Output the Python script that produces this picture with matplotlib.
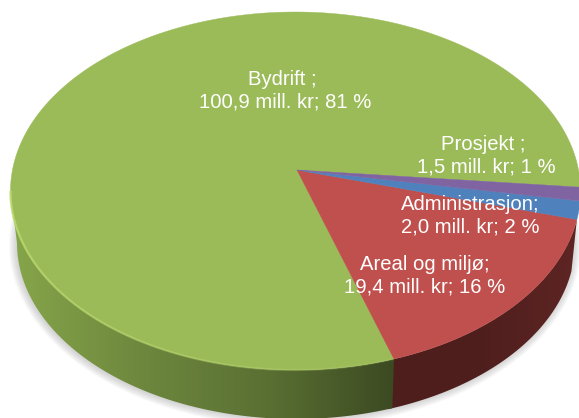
#!/usr/bin/env python3
import numpy as np
import matplotlib
matplotlib.use('Agg')
import matplotlib.pyplot as plt
from matplotlib.patches import Ellipse, Polygon
from matplotlib.collections import LineCollection
from matplotlib.colors import LinearSegmentedColormap

# Data ---------------------------------------------
categories = ['Bydrift ; ', 'Areal og miljø;', 'Administrasjon;', 'Prosjekt ; ']
values = [100.9, 19.4, 2.0, 1.5]
value_text = ['100,9', '19,4', '2,0', '1,5']
percents = [81, 16, 2, 1]

# Styles / layout ----------------------------------
colors = ['#9BBB59', '#C0504D', '#4F81BD', '#8064A2']
label_xy = [(285, 91), (425, 276), (470, 216), (486, 156)]

cx, cy, rx, ry = 295.5, 191.0, 285.0, 179.0   # top ellipse
bx, by, brx, bry = 296.0, 243.0, 279.0, 176.0  # bottom ellipse
ax0, ay0 = 297.0, 170.0                        # apex of the slices
squash = 0.63
start = 5.5     # degrees, clockwise on screen, where Prosjekt begins


def rim(theta):
    # ray from the apex out to the top ellipse, theta in degrees clockwise on screen
    theta = np.radians(np.asarray(theta, dtype=float))
    dx = np.cos(theta)
    dy = squash * np.sin(theta)
    ox = ax0 - cx
    oy = ay0 - cy
    a = (dx / rx) ** 2 + (dy / ry) ** 2
    b = 2 * (ox * dx / rx ** 2 + oy * dy / ry ** 2)
    c = (ox / rx) ** 2 + (oy / ry) ** 2 - 1
    s = (-b + np.sqrt(b * b - 4 * a * c)) / (2 * a)
    return ax0 + s * dx, ay0 + s * dy


def side_poly(t1, t2):
    t = np.radians(np.linspace(t1, t2, 200))
    top = np.column_stack([cx + rx * np.cos(t), cy + ry * np.sin(t)])
    bot = np.column_stack([bx + brx * np.cos(t), by + bry * np.sin(t)])
    return np.vstack([top, bot[::-1]])


def ellipse_param(x, y):
    return np.degrees(np.arctan2((y - cy) / ry, (x - cx) / rx))


fig = plt.figure(figsize=(5.79, 4.18), dpi=100)
ax = fig.add_axes([0, 0, 1, 1])
ax.set_xlim(0, 579)
ax.set_ylim(418, 0)
ax.axis('off')

# soft shadow under the disc
for i in range(8):
    ax.add_patch(Ellipse((bx - 1, by + 2), 2 * brx + 14 - 2 * i, 2 * bry + 12 - 2 * i,
                         color='#606060', alpha=0.035, lw=0, zorder=1))

# angles of the slice borders, clockwise on screen: Prosjekt, Administrasjon, Areal, then Bydrift
fractions = np.array(values) / sum(values) * 360
edges = np.cumsum([start, fractions[3], fractions[2], fractions[1]])
spans = {3: (edges[0], edges[1]), 2: (edges[1], edges[2]), 1: (edges[2], edges[3]),
         0: (edges[3], edges[0] + 360)}

# sides, the red one runs a little under the green one so no seam shows
xb, yb = rim(edges[3])
tb = ellipse_param(xb, yb)
xr, yr = rim(edges[2])
tr = ellipse_param(xr, yr)

red_side = Polygon(side_poly(tr, tb + 1), closed=True, transform=ax.transData, lw=0)
red_cmap = LinearSegmentedColormap.from_list('side2', ['#4E1E1D', '#4F1F1E', '#5E2523'])
im2 = ax.imshow(np.linspace(0, 1, 256).reshape(1, -1), cmap=red_cmap, aspect='auto',
                extent=[xb - 6, 579, 418, 0], zorder=2)
ax.add_patch(red_side)
red_side.set_visible(False)
im2.set_clip_path(red_side)
ax.set_xlim(0, 579)
ax.set_ylim(418, 0)

green_side = Polygon(side_poly(tb, 180), closed=True, transform=ax.transData, lw=0)
side_cmap = LinearSegmentedColormap.from_list('side', ['#86A64A', '#6E883E', '#5A7033', '#3C4A22'])
im = ax.imshow(np.linspace(0, 1, 256).reshape(1, -1), cmap=side_cmap, aspect='auto',
               extent=[11, xb, 418, 0], zorder=2.1)
ax.add_patch(green_side)
green_side.set_visible(False)
im.set_clip_path(green_side)
ax.set_xlim(0, 579)
ax.set_ylim(418, 0)

# top of the pie
for i in range(len(values)):
    a1, a2 = spans[i]
    px, py = rim(np.linspace(a1, a2, 400))
    pts = np.column_stack([np.r_[ax0, px], np.r_[ay0, py]])
    ax.add_patch(Polygon(pts, closed=True, facecolor=colors[i], edgecolor=colors[i],
                         lw=0.3, zorder=3))

# light bevel on the front edge, fading to the right
t = np.radians(np.linspace(180, tb, 200))
ex = cx + rx * np.cos(t)
ey = cy + ry * np.sin(t)
segs = np.stack([np.column_stack([ex[:-1], ey[:-1]]), np.column_stack([ex[1:], ey[1:]])], axis=1)
bevel = LineCollection(segs, colors=[(0.74, 0.86, 0.44, a) for a in np.linspace(0.95, 0.15, 199)],
                       linewidths=1.6, zorder=4)
ax.add_collection(bevel)

# labels
for i in range(len(values)):
    txt = '{}\n{} mill. kr; {} %'.format(categories[i], value_text[i], percents[i])
    ax.text(label_xy[i][0], label_xy[i][1], txt, color='white', ha='center', va='center',
            fontsize=14.6, family='Liberation Sans', linespacing=1.22, zorder=5)

plt.savefig('out.png', dpi=100)
